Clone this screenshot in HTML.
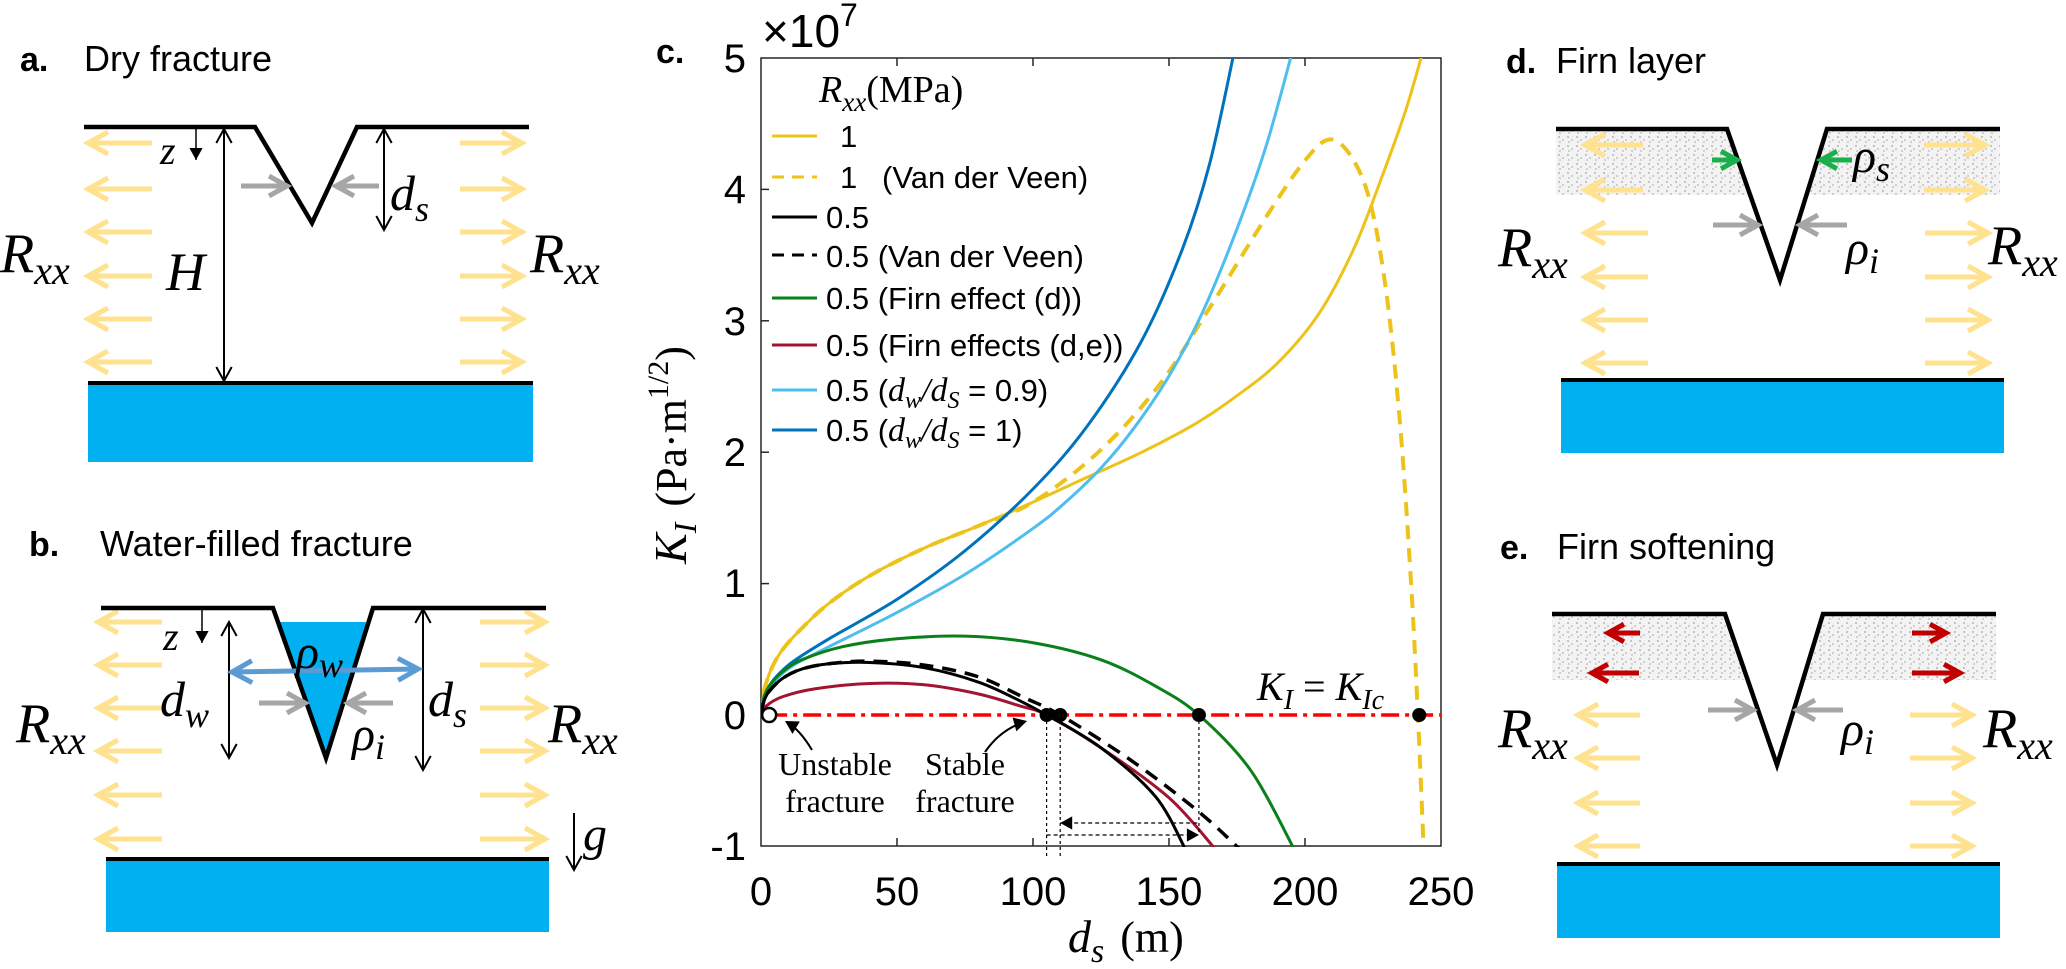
<!DOCTYPE html>
<html><head><meta charset="utf-8">
<style>
html,body{margin:0;padding:0;background:#fff;}
svg{display:block;}
.t{font-family:"Liberation Sans",sans-serif;fill:#000;}
.m{font-family:"Liberation Serif",serif;font-style:italic;fill:#000;}
.s{font-family:"Liberation Serif",serif;fill:#000;}
</style></head><body>
<svg id="S" width="2066" height="969" viewBox="0 0 2066 969" xmlns="http://www.w3.org/2000/svg">
<defs>
<pattern id="firn" width="9" height="9" patternUnits="userSpaceOnUse">
<rect width="9" height="9" fill="#f3f3f3"/>
<rect x="1" y="1" width="2" height="2" fill="#c4c4c4"/>
<rect x="5" y="4" width="2" height="2" fill="#cfcfcf"/>
<rect x="2" y="6" width="2" height="2" fill="#d0d0d0"/>
</pattern>
<clipPath id="plot"><rect x="761" y="58" width="680" height="789"/></clipPath>
</defs>
<g id="G"></g>

<!-- Panel a -->
<text class="t" x="20" y="71" font-size="34" font-weight="bold">a.</text>
<text class="t" x="84" y="71" font-size="36">Dry fracture</text>
<text class="m" x="160" y="164" font-size="40">z</text>
<text class="m" x="166" y="290" font-size="54">H</text>
<text class="m" x="390" y="210" font-size="50">d<tspan font-size="36" dy="11">s</tspan></text>
<text class="m" x="0" y="272" font-size="56">R<tspan font-size="40" dy="12">xx</tspan></text>
<text class="m" x="530" y="272" font-size="56">R<tspan font-size="40" dy="12">xx</tspan></text>

<!-- Panel b -->
<text class="t" x="29" y="556" font-size="34" font-weight="bold">b.</text>
<text class="t" x="100" y="556" font-size="36">Water-filled fracture</text>
<text class="m" x="163" y="650" font-size="40">z</text>
<text class="m" x="160" y="716" font-size="50">d<tspan font-size="36" dy="11">w</tspan></text>
<text class="m" x="428" y="716" font-size="50">d<tspan font-size="36" dy="11">s</tspan></text>
<text class="m" x="296" y="668" font-size="48">ρ<tspan font-size="36" dy="9">w</tspan></text>
<text class="m" x="352" y="750" font-size="48">ρ<tspan font-size="36" dy="9">i</tspan></text>
<text class="m" x="16" y="742" font-size="56">R<tspan font-size="40" dy="12">xx</tspan></text>
<text class="m" x="548" y="742" font-size="56">R<tspan font-size="40" dy="12">xx</tspan></text>
<text class="m" x="583" y="850" font-size="48">g</text>

<!-- Panel d -->
<text class="t" x="1506" y="73" font-size="34" font-weight="bold">d.</text>
<text class="t" x="1556" y="73" font-size="36">Firn layer</text>
<text class="m" x="1853" y="172" font-size="48">ρ<tspan font-size="36" dy="9">s</tspan></text>
<text class="m" x="1846" y="264" font-size="48">ρ<tspan font-size="36" dy="9">i</tspan></text>
<text class="m" x="1498" y="266" font-size="56">R<tspan font-size="40" dy="12">xx</tspan></text>
<text class="m" x="1988" y="264" font-size="56">R<tspan font-size="40" dy="12">xx</tspan></text>

<!-- Panel e -->
<text class="t" x="1500" y="559" font-size="34" font-weight="bold">e.</text>
<text class="t" x="1557" y="559" font-size="36">Firn softening</text>
<text class="m" x="1841" y="745" font-size="48">ρ<tspan font-size="36" dy="9">i</tspan></text>
<text class="m" x="1498" y="747" font-size="56">R<tspan font-size="40" dy="12">xx</tspan></text>
<text class="m" x="1983" y="747" font-size="56">R<tspan font-size="40" dy="12">xx</tspan></text>

<!-- Chart c text -->
<text class="t" x="656" y="63" font-size="34" font-weight="bold">c.</text>
<text class="t" x="762" y="47" font-size="46" fill="#262626">×10</text>
<text class="t" x="840" y="26" font-size="32" fill="#262626">7</text>
<g class="t" font-size="40" fill="#262626" text-anchor="end">
<text x="746" y="72">5</text><text x="746" y="203">4</text><text x="746" y="335">3</text>
<text x="746" y="466">2</text><text x="746" y="597">1</text><text x="746" y="729">0</text>
<text x="746" y="860">-1</text>
</g>
<g class="t" font-size="40" fill="#262626" text-anchor="middle">
<text x="761" y="905">0</text><text x="897" y="905">50</text><text x="1033" y="905">100</text>
<text x="1169" y="905">150</text><text x="1305" y="905">200</text><text x="1441" y="905">250</text>
</g>
<text class="m" x="1068" y="952" font-size="46">d<tspan font-size="34" dy="10">s</tspan><tspan class="s" font-style="normal" font-size="44" dy="-10" dx="16">(m)</tspan></text>
<text transform="translate(686,455) rotate(-90)" text-anchor="middle" class="m" font-size="46">K<tspan font-size="32" dy="10">I</tspan><tspan class="s" font-style="normal" font-size="44" dy="-10" dx="16">(Pa·m</tspan><tspan class="s" font-style="normal" font-size="30" dy="-18">1/2</tspan><tspan class="s" font-style="normal" font-size="44" dy="18">)</tspan></text>

<text class="m" x="819" y="102" font-size="38">R<tspan font-size="27" dy="9">xx</tspan><tspan class="s" font-style="normal" font-size="38" dy="-9">(MPa)</tspan></text>
<g class="t" font-size="31">
<text x="840" y="147">1</text>
<text x="840" y="188">1</text><text x="882" y="188">(Van der Veen)</text>
<text x="826" y="228">0.5</text>
<text x="826" y="267">0.5 (Van der Veen)</text>
<text x="826" y="309">0.5 (Firn effect (d))</text>
<text x="826" y="356">0.5 (Firn effects (d,e))</text>
<text x="826" y="401">0.5 (<tspan class="m" font-size="34">d<tspan font-size="24" dy="7">w</tspan><tspan dy="-7">/d</tspan><tspan font-size="24" dy="7">S</tspan></tspan><tspan dy="-7"> = 0.9)</tspan></text>
<text x="826" y="441">0.5 (<tspan class="m" font-size="34">d<tspan font-size="24" dy="7">w</tspan><tspan dy="-7">/d</tspan><tspan font-size="24" dy="7">S</tspan></tspan><tspan dy="-7"> = 1)</tspan></text>
</g>
<text class="m" x="1257" y="700" font-size="40" fill="#c00000">K<tspan font-size="28" dy="9">I</tspan><tspan class="s" font-style="normal" dy="-9" dx="10">=</tspan><tspan dx="10">K</tspan><tspan font-size="28" dy="9">Ic</tspan></text>
<g class="s" font-size="32" text-anchor="middle">
<text x="835" y="775">Unstable</text><text x="835" y="812">fracture</text>
<text x="965" y="775">Stable</text><text x="965" y="812">fracture</text>
</g>
</svg>
<script>
var G=document.getElementById('G');var NS='http://www.w3.org/2000/svg';
function el(t,a,p){var e=document.createElementNS(NS,t);for(var k in a)e.setAttribute(k,a[k]);(p||G).appendChild(e);return e;}
function line(x1,y1,x2,y2,c,w,extra){var a={x1:x1,y1:y1,x2:x2,y2:y2,stroke:c,'stroke-width':w};for(var k in extra||{})a[k]=extra[k];return el('line',a);}
function head(x1,y1,x2,y2,c,w,L,fill){var dx=x2-x1,dy=y2-y1,d=Math.hypot(dx,dy),ux=dx/d,uy=dy/d,px=-uy,py=ux;var s=L*0.55;
 var p=(x2-ux*L+px*s)+','+(y2-uy*L+py*s)+' '+x2+','+y2+' '+(x2-ux*L-px*s)+','+(y2-uy*L-py*s);
 if(fill)el('polygon',{points:p,fill:c});else el('polyline',{points:p,fill:'none',stroke:c,'stroke-width':w,'stroke-linejoin':'miter'});}
function arr(x1,y1,x2,y2,c,w,L,fill){line(x1,y1,x2,y2,c,w);head(x1,y1,x2,y2,c,w,L,fill);}
function darr(x1,y1,x2,y2,c,w,L){line(x1,y1,x2,y2,c,w);head(x1,y1,x2,y2,c,w,L);head(x2,y2,x1,y1,c,w,L);}
var YEL='#FFE28F',GRY='#A6A6A6',BLU='#00B0F0';
function yellows(rows,lx1,lx2,rx1,rx2){rows.forEach(function(y){arr(lx2,y,lx1,y,YEL,5,20);arr(rx1,y,rx2,y,YEL,5,20);});}
// Panel a
yellows([143,189,232,276,319,362],88,152,460,522);
el('rect',{x:88,y:383,width:445,height:79,fill:BLU});line(88,383,533,383,'#000',4);
el('polyline',{points:'84,127 255,127 312,223 357,127 529,127',fill:'none',stroke:'#000','stroke-width':4.5});
arr(196,128,196,160,'#000',1.5,12,true);
darr(224,129,224,381,'#000',2,14);
darr(384,129,384,230,'#000',2,14);
arr(241,186,287,186,GRY,5,18);arr(379,186,336,186,GRY,5,18);
// Panel b
yellows([622,665,708,751,795,839],98,162,480,545);
el('rect',{x:106,y:859,width:443,height:73,fill:BLU});line(106,859,549,859,'#000',4);
el('polygon',{points:'279,622 367,622 326,758',fill:BLU});
el('polyline',{points:'101,608 273,608 326,758 373,608 546,608',fill:'none',stroke:'#000','stroke-width':4.5});
arr(202,609,202,643,'#000',1.5,12,true);
darr(229,622,229,758,'#000',2,14);
darr(423,609,423,770,'#000',2,14);
darr(232,672,418,669,'#5B9BD5',5,20);
arr(259,703,305,703,GRY,5,18);arr(393,703,348,703,GRY,5,18);
arr(574,813,574,870,'#000',2,14,false);
// Panel d
el('rect',{x:1556,y:131,width:444,height:64,fill:'url(#firn)'});
el('polygon',{points:'1727,129 1780,280 1827,129',fill:'#fff'});
arr(1643,145,1585,145,YEL,5,20);arr(1643,190,1585,190,YEL,5,20);arr(1924,145,1985,145,YEL,5,20);arr(1924,190,1985,190,YEL,5,20);
yellows([233,277,320,363],1585,1648,1925,1988);
el('rect',{x:1561,y:380,width:443,height:73,fill:BLU});line(1561,380,2004,380,'#000',4);
el('polyline',{points:'1556,129 1727,129 1780,280 1827,129 2000,129',fill:'none',stroke:'#000','stroke-width':4.5});
arr(1712,160,1737,160,'#1AAF4B',5,16);arr(1852,160,1821,160,'#1AAF4B',5,16);
arr(1713,225,1758,225,GRY,5,18);arr(1847,225,1800,225,GRY,5,18);
// Panel e
el('rect',{x:1552,y:616,width:444,height:64,fill:'url(#firn)'});
el('polygon',{points:'1725,614 1777,765 1823,614',fill:'#fff'});
arr(1640,633,1608,633,'#C00000',5,16);arr(1639,673,1592,673,'#C00000',5,16);
arr(1912,633,1946,633,'#C00000',5,16);arr(1912,673,1960,673,'#C00000',5,16);
yellows([715,758,803,846],1578,1640,1910,1972);
el('rect',{x:1557,y:864,width:443,height:74,fill:BLU});line(1557,864,2000,864,'#000',4);
el('polyline',{points:'1552,614 1725,614 1777,765 1823,614 1996,614',fill:'none',stroke:'#000','stroke-width':4.5});
arr(1708,710,1753,710,GRY,5,18);arr(1843,710,1797,710,GRY,5,18);
// Chart
function X(v){return 761+2.72*v;}function Y(v){return 715-131.4*v;}
var AX='#262626';
el('rect',{x:761,y:58,width:680,height:788,fill:'none',stroke:AX,'stroke-width':1.5});
[50,100,150,200].forEach(function(v){line(X(v),846,X(v),838,AX,1.5);line(X(v),58,X(v),66,AX,1.5);});
[4,3,2,1,0].forEach(function(v){line(761,Y(v),769,Y(v),AX,1.5);});
var CG=el('g',{'clip-path':'url(#plot)'});
function spline(pts){var P=pts.map(function(p){return [X(p[0]),Y(p[1])];});var d='M'+P[0][0]+','+P[0][1];
 for(var i=0;i<P.length-1;i++){var p0=P[i-1]||P[i],p1=P[i],p2=P[i+1],p3=P[i+2]||P[i+1];
 d+=' C'+(p1[0]+(p2[0]-p0[0])/6)+','+(p1[1]+(p2[1]-p0[1])/6)+' '+(p2[0]-(p3[0]-p1[0])/6)+','+(p2[1]-(p3[1]-p1[1])/6)+' '+p2[0]+','+p2[1];}return d;}
function curve(pts,c,w,dash){var a={d:spline(pts),fill:'none',stroke:c,'stroke-width':w};if(dash)a['stroke-dasharray']=dash;el('path',a,CG);}
var YC='#EDC31A';
var yb=[[0,0],[1,0.17],[2,0.25],[4,0.36],[8,0.5],[15,0.66],[25,0.85],[40,1.06],[60,1.27],[80,1.44],[100,1.62]];
curve(yb.concat([[120,1.81],[140,2.0],[160,2.22],[175,2.43],[190,2.68],[205,3.05],[218,3.55],[228,4.08],[237,4.6],[244,5.1]]),YC,3);
curve(yb.concat([[124,2.0],[146,2.5],[165,3.1],[186,3.8],[200,4.22],[209,4.38],[217,4.25],[224,3.9],[230,3.2],[235,2.2],[239,1.0],[241.5,0],[244,-1.2]]),YC,4,'14 9');
curve([[0,0],[1,0.13],[3,0.22],[6,0.3],[12,0.41],[25,0.58],[50,0.88],[75,1.25],[100,1.72],[120,2.2],[140,2.85],[155,3.55],[165,4.2],[174,5.05]],'#0072BD',3);
curve([[0,0],[1,0.12],[3,0.2],[6,0.28],[12,0.38],[25,0.52],[50,0.78],[75,1.07],[100,1.42],[112,1.62],[125,1.88],[137,2.18],[150,2.58],[162,3.05],[175,3.7],[186,4.35],[196,5.1]],'#4DBEEE',3);
curve([[0,0],[1,0.12],[3,0.22],[8,0.33],[15,0.42],[30,0.52],[50,0.58],[75,0.6],[100,0.55],[125,0.42],[145,0.22],[161,0],[180,-0.42],[196,-1.02]],'#0A7F1A',3);
curve([[0,0],[2,0.07],[8,0.14],[20,0.2],[40,0.24],[60,0.23],[80,0.16],[95,0.07],[105,0],[125,-0.25],[150,-0.63],[167,-1.02]],'#A2142F',3);
curve([[0,0],[1,0.1],[3,0.18],[8,0.28],[15,0.35],[25,0.39],[40,0.41],[60,0.38],[80,0.29],[97,0.13],[110,0],[135,-0.33],[160,-0.72],[176,-1.02]],'#000',3.5,'14 9');
curve([[0,0],[1,0.1],[3,0.18],[8,0.28],[15,0.35],[25,0.39],[40,0.4],[60,0.36],[80,0.25],[95,0.11],[105,0],[125,-0.25],[145,-0.62],[156,-1.02]],'#000',3);
line(X(3),Y(0),1441,Y(0),'#FF0000',3.5,{'stroke-dasharray':'18 6 4 6'});
[105,110,161].forEach(function(v){line(X(v),Y(0),X(v),v==161?835:856,'#000',1.2,{'stroke-dasharray':'3 3'});});
line(X(110),823,X(161),823,'#000',1.2,{'stroke-dasharray':'4 3'});head(X(161),823,X(110),823,'#000',1,12,true);
line(X(105),835,X(161),835,'#000',1.2,{'stroke-dasharray':'4 3'});head(X(105),835,X(161),835,'#000',1,12,true);
[105,110,161,242].forEach(function(v){el('circle',{cx:X(v),cy:Y(0),r:7,fill:'#000'});});
el('circle',{cx:X(3),cy:Y(0),r:7,fill:'#fff',stroke:'#000','stroke-width':2.5});
el('path',{d:'M812,750 Q800,730 787,722',fill:'none',stroke:'#000','stroke-width':2});head(800,730,785,721,'#000',1,13,true);
el('path',{d:'M985,752 Q1000,730 1024,722',fill:'none',stroke:'#000','stroke-width':2});head(1005,727,1027,721,'#000',1,13,true);
var L=[[136,YC,0],[177,YC,1],[217,'#000',0],[255,'#000',1],[298,'#0A7F1A',0],[345,'#A2142F',0],[390,'#4DBEEE',0],[430,'#0072BD',0]];
L.forEach(function(r){line(772,r[0],817,r[0],r[1],3,r[2]?{'stroke-dasharray':'12 8'}:{});});
</script>
</body></html>
